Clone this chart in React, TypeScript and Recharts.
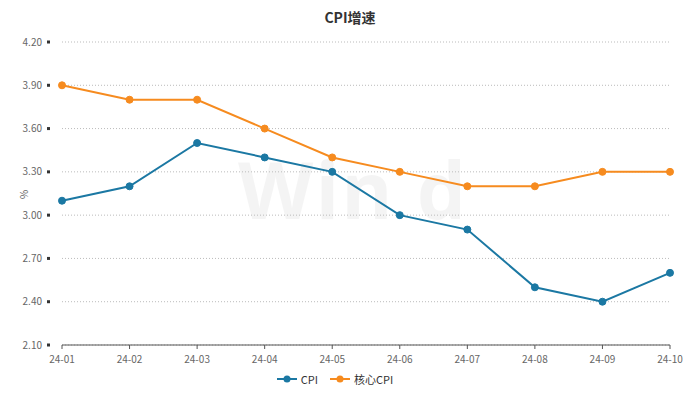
import React from "react";
import { LineChart, Line, XAxis, YAxis, CartesianGrid, Legend } from "recharts";

const categories = ["24-01", "24-02", "24-03", "24-04", "24-05", "24-06", "24-07", "24-08", "24-09", "24-10"];
const cpi = [3.1, 3.2, 3.5, 3.4, 3.3, 3.0, 2.9, 2.5, 2.4, 2.6];
const coreCpi = [3.9, 3.8, 3.8, 3.6, 3.4, 3.3, 3.2, 3.2, 3.3, 3.3];
const yTicks = [2.1, 2.4, 2.7, 3.0, 3.3, 3.6, 3.9, 4.2];

const data = categories.map((c, i) => ({ name: c, cpi: cpi[i], core: coreCpi[i] }));

const BLUE = "#1b78a3";
const ORANGE = "#f68b1f";
const FONT = "'Noto Sans CJK SC', 'Noto Sans', sans-serif";

const YTick = (props: any) => {
  const { x, y, payload } = props;
  return (
    <g>
      <rect x={x - 7} y={y - 1.5} width={3} height={3} fill="#333" />
      <text x={x - 12} y={y} dy="0.35em" textAnchor="end" fontSize={10} fill="#666" fontFamily={FONT}>
        {payload.value.toFixed(2)}
      </text>
    </g>
  );
};

const LegendContent = () => (
  <div style={{ display: "flex", justifyContent: "center", alignItems: "center", height: 28, fontFamily: FONT, fontSize: 11, color: "#333" }}>
    {[
      { label: "CPI", color: BLUE },
      { label: "核心CPI", color: ORANGE },
    ].map((it) => (
      <div key={it.label} style={{ display: "flex", alignItems: "center", margin: "0 6px" }}>
        <svg width={20} height={10} style={{ marginRight: 4 }}>
          <line x1={0} y1={5} x2={20} y2={5} stroke={it.color} strokeWidth={2} />
          <circle cx={10} cy={5} r={3.5} fill={it.color} />
        </svg>
        <span>{it.label}</span>
      </div>
    ))}
  </div>
);

export default function App() {
  return (
    <div style={{ position: "absolute", left: 0, top: 0, width: 700, height: 398, background: "#fff" }}>
      <div style={{ position: "absolute", top: 7, left: 0, width: 700, textAlign: "center", fontFamily: FONT, fontSize: 14, fontWeight: 700, color: "#333" }}>
        CPI增速
      </div>
      <div style={{ position: "absolute", top: 136, left: 238, fontFamily: "'Open Sans', sans-serif", fontSize: 78, fontWeight: 700, color: "rgba(0,0,0,0.045)", letterSpacing: 2 }}>
        Win d
      </div>
      <div style={{ position: "absolute", left: 19, top: 187, transform: "rotate(-90deg)", fontFamily: FONT, fontSize: 10, color: "#666" }}>%</div>
      <LineChart width={700} height={398} data={data} margin={{ top: 42, right: 30, left: 0, bottom: 5 }}>
        <CartesianGrid vertical={false} stroke="#bbb" strokeDasharray="1 2" />
        <XAxis
          dataKey="name"
          height={20}
          tick={{ fontSize: 10, fill: "#666", fontFamily: FONT }}
          tickSize={4}
          tickMargin={7}
          axisLine={{ stroke: "#555" }}
          tickLine={{ stroke: "#555" }}
          interval={0}
        />
        <YAxis
          width={62}
          domain={[2.1, 4.2]}
          ticks={yTicks}
          axisLine={false}
          tickLine={false}
          tick={<YTick />}
          interval={0}
        />
        <Legend verticalAlign="bottom" height={28} content={<LegendContent />} />
        <Line type="linear" dataKey="cpi" stroke={BLUE} strokeWidth={2} dot={{ r: 3.5, fill: BLUE, stroke: BLUE, strokeWidth: 1 }} isAnimationActive={false} />
        <Line type="linear" dataKey="core" stroke={ORANGE} strokeWidth={2} dot={{ r: 3.5, fill: ORANGE, stroke: ORANGE, strokeWidth: 1 }} isAnimationActive={false} />
      </LineChart>
    </div>
  );
}
